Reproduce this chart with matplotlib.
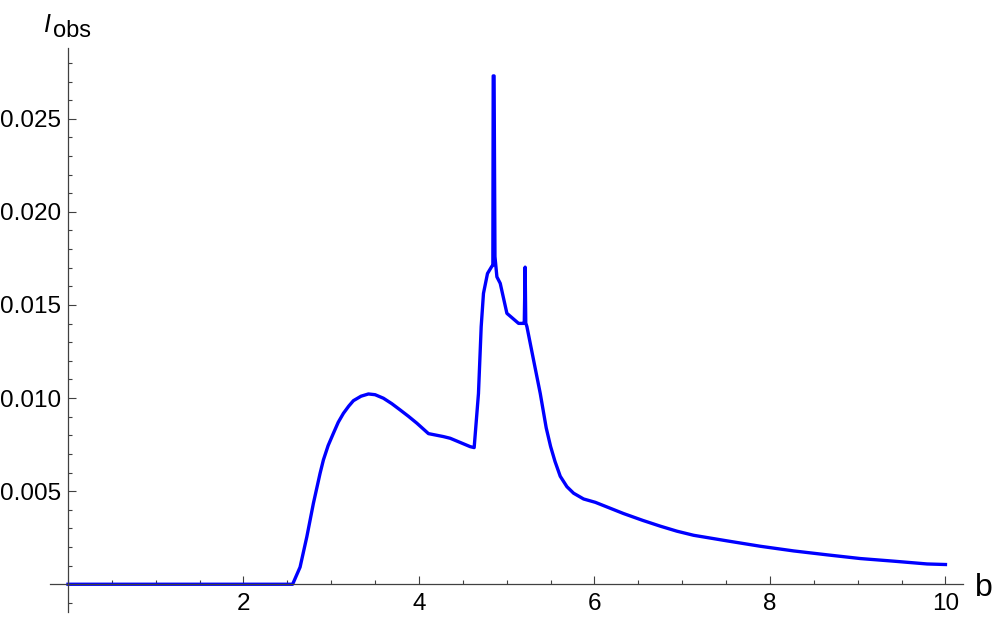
# -*- coding: utf-8 -*-
import matplotlib
matplotlib.use('Agg')
import matplotlib.pyplot as plt
from matplotlib.ticker import MultipleLocator, FixedLocator, FuncFormatter

# curve (b, I_obs)
b_vals = [0.0, 1.0, 2.0, 2.56, 2.645, 2.722, 2.797, 2.873, 2.911, 2.965, 3.025,
          3.08, 3.139, 3.2, 3.253, 3.34, 3.424, 3.5, 3.595, 3.69, 3.786,
          3.88, 3.976, 4.108, 4.279, 4.356, 4.584, 4.629,
          4.678, 4.709, 4.735, 4.781, 4.831, 4.842, 4.846, 4.856, 4.866,
          4.888, 4.926, 5.002, 5.135, 5.192, 5.200, 5.210, 5.217, 5.230,
          5.306, 5.382, 5.45, 5.50, 5.55, 5.61, 5.686, 5.762, 5.876,
          6.010, 6.17, 6.33, 6.55, 6.75, 6.94, 7.130, 7.511, 7.891, 8.270,
          8.651, 9.031, 9.410, 9.791, 10.0]
i_obs = [0.0, 0.0, 0.0, 0.0, 0.00092, 0.00255, 0.00435, 0.00596, 0.00668, 0.00745, 0.00811,
         0.00870, 0.00918, 0.00957, 0.00986, 0.01010, 0.01022, 0.01018, 0.00999, 0.00970, 0.00936,
         0.00902, 0.00865, 0.00809, 0.00793, 0.00784, 0.00739, 0.00734,
         0.01024, 0.01383, 0.01562, 0.01669, 0.01708, 0.01712, 0.02730, 0.02730, 0.01760,
         0.01651, 0.01616, 0.01455, 0.01401, 0.01401, 0.01403, 0.01703, 0.01403, 0.01384,
         0.01204, 0.01025, 0.00840, 0.00740, 0.00660, 0.00580, 0.00524, 0.00489, 0.00458,
         0.00440, 0.00410, 0.00380, 0.00343, 0.00312, 0.00285, 0.00263, 0.00233, 0.00204, 0.00179,
         0.00158, 0.00138, 0.00124, 0.00109, 0.00106]

x_major = [2, 4, 6, 8, 10]
y_major = [0.005, 0.010, 0.015, 0.020, 0.025]

plt.rcParams['font.family'] = ['Liberation Sans', 'DejaVu Sans']

fig = plt.figure(figsize=(9.97, 6.21), dpi=100)
ax = fig.add_axes([50/997, 1 - 612/621, (963-50)/997, (612-48)/621])

ax.plot(b_vals, i_obs, color=(0, 0, 1), lw=2.4, solid_joinstyle='round')

ax.set_xlim(-0.205, 10.2)
ax.set_ylim(-0.00149, 0.0288)

axis_col = '#404040'
for side in ['top', 'right']:
    ax.spines[side].set_visible(False)
ax.spines['left'].set_position(('data', 0))
ax.spines['bottom'].set_position(('data', 0))
for side in ['left', 'bottom']:
    ax.spines[side].set_color(axis_col)
    ax.spines[side].set_linewidth(0.9)

ax.xaxis.set_major_locator(FixedLocator(x_major))
ax.yaxis.set_major_locator(FixedLocator(y_major))
ax.xaxis.set_minor_locator(MultipleLocator(0.5))
ax.yaxis.set_minor_locator(MultipleLocator(0.001))
ax.xaxis.set_major_formatter(FuncFormatter(lambda v, p: '%d' % v))
ax.yaxis.set_major_formatter(FuncFormatter(lambda v, p: '%.3f' % v))

ax.tick_params(which='both', direction='in', color=axis_col, width=0.8,
               labelsize=17.5, labelcolor='black')
ax.tick_params(which='major', length=5.5)
ax.tick_params(which='minor', length=3)
ax.tick_params(axis='x', which='major', pad=6)
ax.tick_params(axis='y', which='major', pad=5)

fig.text(43/997, 1 - 32/621, 'I', fontsize=18, style='italic', ha='left', va='baseline')
fig.text(53/997, 1 - 37/621, 'obs', fontsize=17, ha='left', va='baseline')
fig.text(975/997, 1 - 596/621, 'b', fontsize=23, ha='left', va='baseline')

fig.savefig('out.png', dpi=100)
